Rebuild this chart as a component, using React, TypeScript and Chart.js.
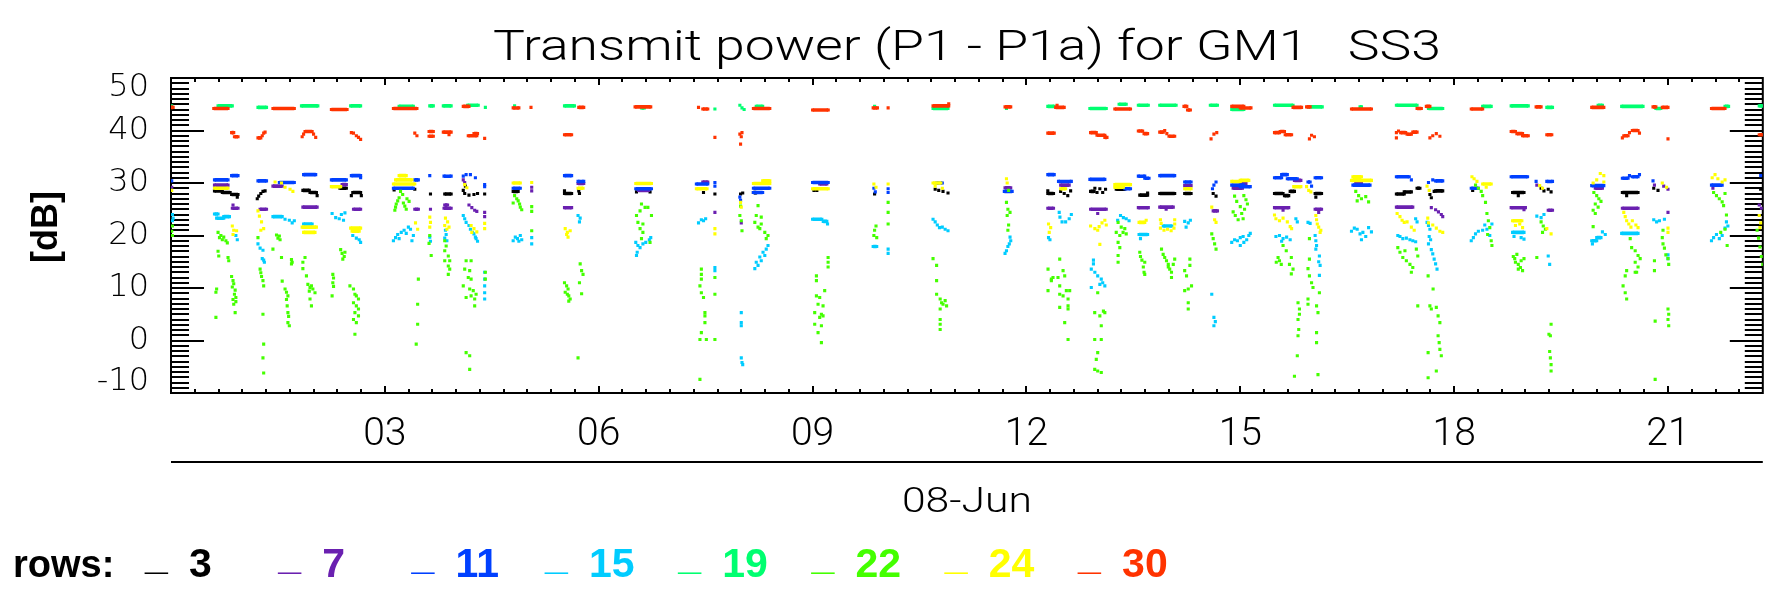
import React, { useEffect, useRef } from 'react';
import { Chart, registerables } from 'chart.js';

Chart.register(...registerables);

// ---------- text ----------
const TITLE = 'Transmit power (P1 - P1a) for GM1   SS3';
const Y_TITLE = '[dB]';
const X_TITLE = '08-Jun';
const LEGEND_LABEL = 'rows:';

// ---------- axes ----------
const X_MIN = 0;
const X_MAX = 22.33;
const Y_MIN = -10;
const Y_MAX = 50;
const xTickValues = [3, 6, 9, 12, 15, 18, 21];
const xTickLabels = ['03', '06', '09', '12', '15', '18', '21'];
const yTickValues = [-10, 0, 10, 20, 30, 40, 50];

// ---------- series ----------
const rowLabels = ['3', '7', '11', '15', '19', '22', '24', '30'];
const rowColors = ['#000000', '#6a20b0', '#0040ff', '#00ccff', '#00ff70', '#44ff00', '#ffff00', '#ff3300'];

// dashes: [hourStart, hourEnd, dB]; dots: [hour, dB]
const dash3 = [[0.61,0.72,28.5],[0.72,0.83,28.2],[0.85,0.94,27.8],[1.85,1.94,28.6],[1.95,2.04,28.2],[2.37,2.46,29.0],[2.55,2.66,28.2],[3.84,3.93,27.9],[4.80,4.87,28.4],[5.52,5.62,28.0],[8.17,8.21,28.2],[12.30,12.38,28.0],[12.90,12.95,28.4],[13.26,13.38,28.8],[13.59,13.70,27.7],[13.87,14.08,28.0],[14.22,14.31,28.0],[15.48,15.60,28.0],[15.62,15.68,27.6],[15.70,15.76,28.4],[16.05,16.14,28.0],[17.19,17.30,27.9],[17.30,17.40,28.3],[17.48,17.52,29.0],[17.74,17.84,28.5],[18.82,18.98,28.2],[20.36,20.58,28.2]];
const dot3 = [[0.93,27.3],[1.21,27.0],[1.23,27.5],[1.26,28.0],[1.29,28.4],[1.32,28.5],[2.05,27.6],[2.53,27.6],[2.67,27.6],[3.13,28.7],[3.42,28.8],[3.64,27.9],[4.13,29.4],[4.10,28.6],[4.12,28.0],[4.18,27.7],[4.25,27.8],[4.30,28.0],[4.40,27.9],[5.52,28.5],[5.72,28.5],[5.73,28.0],[6.53,28.3],[6.72,28.3],[7.47,28.2],[7.63,27.9],[7.99,27.9],[8.02,28.1],[8.20,28.1],[9.02,28.6],[9.06,28.6],[9.87,27.9],[10.72,28.8],[10.77,28.6],[10.83,28.4],[10.90,28.1],[12.30,28.5],[12.48,28.4],[12.53,28.0],[12.58,27.6],[12.62,28.5],[12.96,29.0],[12.99,28.2],[13.03,28.9],[13.07,28.2],[13.11,28.8],[13.70,28.1],[14.62,28.0],[14.66,27.5],[16.06,27.3],[17.66,27.8],[17.72,28.4],[17.68,27.2],[18.26,28.6],[18.90,27.6],[19.22,29.0],[19.26,28.5],[19.32,28.8],[19.36,28.3],[20.42,27.6],[20.80,29.0],[20.86,28.6],[22.30,28.8]];

const dash7 = [[0.61,0.80,29.6],[0.86,0.94,25.2],[1.25,1.34,25.0],[1.43,1.56,29.4],[1.85,2.05,25.4],[2.40,2.46,29.7],[2.56,2.66,25.0],[3.42,3.47,25.0],[3.83,3.93,25.2],[3.84,3.88,25.8],[5.71,5.79,29.9],[5.52,5.62,25.3],[6.56,6.70,28.6],[7.46,7.53,30.2],[9.10,9.20,29.8],[11.70,11.78,29.1],[12.48,12.60,29.6],[12.30,12.38,25.2],[12.90,13.12,25.0],[13.57,13.71,25.3],[13.87,14.06,25.4],[14.22,14.31,29.5],[14.62,14.68,24.7],[14.90,15.03,29.0],[15.00,15.08,29.9],[15.76,15.85,30.5],[15.48,15.68,25.3],[16.05,16.14,25.0],[16.62,16.70,29.9],[17.19,17.42,25.4],[18.80,19.00,25.3],[19.32,19.38,24.8],[19.98,20.08,29.0],[20.36,20.58,25.2]];
const dot7 = [[0.01,29.2],[0.87,25.8],[3.64,25.0],[4.10,30.6],[4.12,30.1],[4.18,25.8],[4.22,25.3],[4.26,24.8],[4.29,24.6],[4.40,24.4],[4.40,23.6],[5.06,29.2],[5.06,28.5],[7.63,24.4],[8.00,22.4],[13.00,24.2],[13.96,25.0],[15.60,24.8],[16.10,24.4],[17.68,25.3],[17.74,24.9],[17.78,24.5],[17.82,24.0],[17.84,23.6],[18.98,24.9],[19.16,29.6],[20.81,29.6],[20.94,29.4],[21.00,28.8],[21.00,24.4],[21.63,29.0],[22.28,25.8],[22.31,25.2]];

const dash11 = [[0.61,0.80,30.6],[0.85,0.94,31.4],[1.22,1.34,30.4],[1.52,1.73,30.1],[1.86,2.03,31.6],[2.25,2.46,30.6],[2.53,2.66,31.4],[3.12,3.40,29.0],[3.42,3.47,30.6],[3.83,3.93,31.3],[4.80,4.90,29.0],[5.52,5.62,31.4],[5.71,5.79,30.3],[6.52,6.74,28.9],[7.37,7.53,29.8],[8.17,8.40,29.0],[8.17,8.30,28.2],[9.00,9.22,30.1],[10.74,10.82,30.0],[11.69,11.80,28.4],[12.30,12.39,31.6],[12.45,12.63,30.3],[12.89,13.10,30.7],[13.38,13.46,28.9],[13.57,13.66,31.3],[13.66,13.72,30.9],[13.87,14.08,31.4],[14.22,14.31,30.2],[14.88,15.05,29.6],[15.00,15.14,29.3],[15.48,15.58,31.0],[15.58,15.66,31.6],[15.66,15.80,30.8],[16.05,16.14,31.0],[15.95,15.98,30.2],[16.58,16.82,29.6],[17.19,17.37,31.2],[17.74,17.84,30.4],[18.24,18.34,29.0],[18.80,19.03,31.2],[19.30,19.38,30.3],[19.93,20.10,29.5],[20.36,20.44,30.9],[20.50,20.58,31.2],[21.61,21.76,29.6]];
const dot11 = [[0.01,30.4],[2.66,31.0],[3.63,31.4],[4.10,31.3],[4.14,31.6],[4.20,31.6],[4.27,31.0],[4.40,29.7],[4.40,29.3],[7.63,30.1],[7.63,29.4],[7.98,27.3],[7.99,26.7],[9.86,29.0],[9.88,28.3],[10.06,28.9],[10.06,28.2],[14.66,30.2],[14.63,29.6],[14.61,28.9],[16.00,29.4],[17.40,30.6],[17.64,30.1],[17.70,30.6],[19.15,30.3],[20.46,31.4],[20.60,31.6],[20.79,30.4],[22.30,31.4]];

const dash15 = [[0.61,0.66,24.1],[0.64,0.74,23.3],[0.74,0.82,23.6],[1.43,1.56,23.6],[1.86,1.98,22.2],[9.00,9.13,23.1],[9.15,9.20,22.7],[9.85,9.90,17.9],[13.58,13.70,20.2],[13.92,14.04,21.8],[18.82,18.98,20.6],[19.93,20.00,19.0],[20.00,20.06,19.6],[20.35,20.58,20.4]];
const dot15 = [[0.02,24.0],[0.03,23.3],[0.02,22.8],[0.91,20.0],[0.93,19.2],[1.22,18.4],[1.25,17.6],[1.29,17.2],[1.28,15.6],[1.31,14.9],[1.30,15.3],[1.60,23.1],[1.66,22.9],[1.70,22.4],[1.73,22.8],[2.26,24.2],[2.31,23.4],[2.36,23.2],[2.39,24.0],[2.44,24.3],[2.42,22.9],[2.55,20.0],[2.60,19.5],[2.64,19.2],[2.66,18.7],[3.12,19.0],[3.15,19.6],[3.18,20.2],[3.20,19.4],[3.23,20.6],[3.27,21.0],[3.30,20.4],[3.33,21.6],[3.36,21.2],[3.40,20.0],[3.38,19.0],[3.63,19.7],[3.64,18.9],[3.85,21.0],[3.86,20.2],[3.84,19.5],[3.87,19.0],[4.10,23.8],[4.12,23.2],[4.14,22.5],[4.18,21.9],[4.20,21.2],[4.23,20.6],[4.27,19.7],[4.25,20.3],[4.30,18.9],[4.28,19.4],[4.40,13.0],[4.40,11.7],[4.40,10.4],[4.40,9.1],[4.40,7.9],[4.80,19.0],[4.83,19.7],[4.86,19.4],[4.88,18.9],[4.90,20.0],[4.92,19.2],[5.06,19.6],[5.06,18.4],[5.71,23.8],[5.74,23.3],[5.73,22.6],[6.52,18.7],[6.55,18.1],[6.58,17.7],[6.62,18.4],[6.66,18.7],[6.71,19.2],[6.73,19.6],[6.53,16.2],[6.54,16.8],[7.40,22.4],[7.44,23.0],[7.50,23.2],[7.47,22.8],[7.63,13.9],[7.63,13.3],[8.375,18.1],[8.35,17.4],[8.305,16.8],[8.33,16.2],[8.26,15.9],[8.28,15.2],[8.21,14.9],[8.235,14.3],[8.19,13.7],[8.00,5.3],[8.00,3.4],[8.00,2.8],[8.00,-3.3],[8.01,-4.2],[8.02,-4.6],[9.21,22.2],[10.06,17.4],[10.06,16.6],[10.69,23.1],[10.72,22.6],[10.75,22.0],[10.78,21.5],[10.82,21.6],[10.86,21.2],[10.90,20.9],[11.77,19.7],[11.78,19.0],[11.76,18.4],[11.74,17.9],[11.72,17.1],[11.70,16.6],[12.46,24.4],[12.47,23.5],[12.50,22.6],[12.55,22.6],[12.60,23.2],[12.63,24.0],[12.31,19.6],[12.33,19.2],[12.94,14.6],[12.91,13.6],[12.96,13.0],[13.00,12.3],[13.05,11.7],[13.07,11.0],[13.10,10.4],[13.03,10.7],[12.91,10.1],[12.94,15.3],[13.32,23.8],[13.36,23.4],[13.40,23.2],[13.44,22.8],[13.28,22.9],[13.60,19.4],[14.22,22.7],[14.27,22.4],[14.30,22.9],[14.24,21.6],[14.60,8.8],[14.63,4.4],[14.65,3.6],[14.63,2.8],[14.88,18.7],[14.92,19.2],[14.96,19.0],[15.00,19.6],[15.04,19.8],[15.00,18.1],[15.05,18.7],[15.09,19.2],[15.12,20.0],[15.14,20.4],[15.78,23.2],[15.80,22.6],[15.50,19.8],[15.55,20.0],[15.60,19.4],[15.65,19.7],[15.70,19.2],[15.58,18.9],[15.95,22.5],[15.98,22.3],[16.05,20.0],[16.06,19.0],[16.07,18.1],[16.06,17.4],[16.11,16.1],[16.10,15.0],[16.12,14.3],[16.11,12.4],[16.56,20.8],[16.60,21.4],[16.64,21.2],[16.68,20.3],[16.72,20.6],[16.76,19.8],[16.80,21.5],[16.84,20.7],[16.70,19.2],[17.46,23.2],[17.48,22.6],[17.21,20.0],[17.24,19.8],[17.28,19.4],[17.33,19.5],[17.38,19.2],[17.42,19.0],[17.46,18.8],[17.62,22.5],[17.64,21.9],[17.66,21.2],[17.65,19.8],[17.67,19.2],[17.64,18.4],[17.68,17.3],[17.70,16.5],[17.72,15.5],[17.74,14.6],[17.76,13.6],[18.24,19.0],[18.27,19.6],[18.30,20.3],[18.34,20.8],[18.40,21.0],[18.43,22.0],[18.46,21.2],[18.50,20.0],[18.53,22.2],[18.84,19.8],[18.94,19.6],[18.98,19.3],[19.16,23.7],[19.22,23.4],[19.26,24.0],[19.32,16.1],[19.34,14.5],[20.08,20.7],[20.12,20.2],[19.94,18.4],[20.80,23.0],[20.84,22.6],[20.88,22.8],[20.95,23.1],[21.00,16.3],[21.00,15.6],[21.61,19.0],[21.64,19.6],[21.68,20.2],[21.72,19.4],[21.76,20.0],[21.80,21.4],[21.82,22.6],[21.84,21.8]];

const dash19 = [[0.66,0.86,44.7],[1.22,1.34,44.4],[1.83,2.06,44.7],[2.52,2.66,44.7],[3.20,3.40,44.6],[3.63,3.68,44.7],[3.82,3.93,44.7],[4.16,4.31,44.8],[5.52,5.66,44.7],[6.60,6.64,44.3],[8.21,8.30,44.6],[10.69,10.90,44.2],[12.30,12.39,44.6],[12.89,13.12,44.2],[13.30,13.40,45.0],[13.57,13.71,44.8],[13.87,14.10,44.8],[14.58,14.68,44.8],[14.88,15.05,44.0],[15.48,15.74,44.8],[15.96,16.15,44.5],[16.68,16.70,44.5],[17.19,17.48,44.8],[17.64,17.84,44.2],[18.40,18.52,44.6],[18.80,19.04,44.7],[19.30,19.38,44.4],[20.02,20.08,44.8],[20.35,20.65,44.6],[20.83,20.90,44.2],[21.80,21.85,44.6],[22.28,22.33,44.7]];
const dot19 = [[0.01,44.7],[4.41,44.4],[4.82,44.7],[7.63,44.1],[7.98,44.8],[8.01,44.3],[8.04,44.0],[9.87,44.6],[11.72,44.2]];

const dash22 = [];
const dot22 = [[0.02,21.8],[0.01,20.8],[0.02,20.0],[0.66,20.6],[0.70,20.0],[0.74,19.7],[0.77,19.0],[0.72,19.2],[0.79,18.6],[0.68,19.6],[0.66,17.0],[0.67,16.1],[0.80,15.8],[0.81,15.2],[0.64,9.8],[0.63,9.2],[0.63,4.4],[0.85,12.2],[0.87,11.4],[0.88,10.8],[0.86,10.2],[0.90,9.6],[0.89,8.8],[0.91,8.2],[0.87,7.8],[0.91,7.4],[0.88,6.9],[0.90,5.3],[1.22,19.6],[1.25,13.6],[1.26,12.9],[1.27,12.2],[1.29,11.4],[1.30,10.4],[1.29,5.0],[1.30,-0.7],[1.29,-3.3],[1.30,-6.2],[1.48,20.1],[1.50,19.5],[1.53,19.2],[1.52,19.9],[1.55,15.8],[1.69,15.4],[1.69,14.6],[1.70,14.9],[1.56,11.3],[1.60,9.8],[1.62,9.2],[1.64,8.5],[1.62,7.8],[1.63,6.6],[1.64,5.3],[1.65,4.6],[1.64,3.4],[1.66,2.8],[1.43,17.4],[1.88,15.8],[1.85,14.9],[1.85,13.7],[1.90,12.3],[1.92,10.7],[1.95,10.1],[1.99,9.8],[2.02,9.1],[1.97,10.4],[1.94,9.4],[1.95,7.9],[1.97,6.6],[2.38,17.3],[2.40,16.6],[2.43,16.0],[2.41,15.5],[2.44,16.8],[2.27,12.6],[2.28,11.9],[2.27,11.0],[2.28,10.3],[2.26,8.5],[2.51,10.4],[2.56,9.8],[2.58,8.8],[2.60,8.5],[2.63,7.9],[2.56,7.2],[2.60,6.6],[2.63,6.0],[2.58,5.3],[2.63,4.7],[2.56,4.0],[2.60,3.4],[2.58,1.2],[3.22,28.4],[3.25,27.8],[3.20,27.2],[3.18,26.6],[3.16,26.0],[3.15,25.4],[3.14,24.8],[3.26,26.2],[3.28,25.6],[3.30,25.0],[3.31,27.0],[3.34,26.5],[3.47,11.7],[3.46,6.9],[3.46,3.1],[3.44,-0.7],[3.63,20.0],[3.62,18.5],[3.65,16.2],[3.84,19.0],[3.86,18.0],[3.84,17.1],[3.89,16.1],[3.91,15.2],[3.84,15.2],[3.89,14.2],[3.91,13.6],[3.89,12.6],[4.14,15.2],[4.21,15.2],[4.12,13.6],[4.19,13.3],[4.17,12.0],[4.21,11.7],[4.10,10.4],[4.19,9.8],[4.24,9.5],[4.14,8.2],[4.21,8.5],[4.28,8.8],[4.26,7.9],[4.26,6.6],[4.14,-2.3],[4.19,-2.9],[4.19,-5.5],[4.41,13.0],[4.41,11.7],[4.82,27.6],[4.85,27.0],[4.87,26.6],[4.89,26.0],[4.90,25.4],[4.92,24.9],[4.80,26.2],[5.06,25.5],[5.06,24.6],[5.06,20.9],[5.52,11.0],[5.55,10.4],[5.57,9.8],[5.53,9.2],[5.56,8.8],[5.58,8.5],[5.60,7.9],[5.58,7.5],[5.74,14.6],[5.76,13.3],[5.78,12.6],[5.73,11.0],[5.76,8.9],[5.71,-3.3],[6.60,26.0],[6.65,25.35],[6.58,24.7],[6.69,25.35],[6.74,23.8],[6.53,23.8],[6.55,22.5],[6.62,22.2],[6.58,21.3],[6.62,20.6],[6.60,19.4],[6.72,18.7],[7.44,13.6],[7.44,12.6],[7.44,11.7],[7.42,10.4],[7.44,9.1],[7.47,8.2],[7.49,5.3],[7.49,4.7],[7.49,3.4],[7.44,1.5],[7.42,0.2],[7.51,0.2],[7.42,-7.4],[7.63,12.0],[7.63,8.8],[7.63,0.2],[7.99,25.6],[7.98,23.8],[8.00,22.8],[8.01,20.9],[8.235,25.7],[8.21,23.8],[8.28,23.5],[8.19,22.5],[8.235,21.6],[8.28,22.2],[8.33,20.6],[8.375,20.0],[8.35,19.4],[8.26,21.3],[9.218,15.8],[9.218,14.9],[9.218,14.0],[9.054,12.3],[9.054,11.4],[9.17,9.5],[9.054,8.5],[9.10,8.2],[9.077,6.9],[9.147,6.6],[9.03,5.3],[9.124,5.0],[9.10,4.4],[9.147,4.7],[9.03,3.1],[9.124,2.8],[9.077,1.5],[9.124,-0.4],[10.06,26.3],[10.06,24.4],[10.06,22.2],[9.89,21.8],[9.87,21.0],[9.86,20.0],[9.90,19.6],[10.69,15.6],[10.74,14.3],[10.74,11.4],[10.74,8.8],[10.79,7.9],[10.81,7.2],[10.83,6.9],[10.88,6.6],[10.86,7.6],[10.79,6.0],[10.79,4.0],[10.79,3.1],[10.79,2.1],[11.75,28.6],[11.72,26.3],[11.74,25.0],[11.77,24.4],[11.73,23.8],[11.75,22.0],[11.74,21.0],[12.467,15.5],[12.303,13.6],[12.373,12.0],[12.443,12.0],[12.514,13.3],[12.537,12.3],[12.35,11.4],[12.467,10.4],[12.56,9.5],[12.607,9.5],[12.467,8.8],[12.514,8.5],[12.584,7.9],[12.584,6.6],[12.467,6.3],[12.584,6.0],[12.537,3.4],[12.584,0.2],[12.303,9.5],[12.35,11.7],[13.00,9.1],[12.958,5.3],[13.08,5.6],[13.10,5.3],[13.03,4.7],[13.05,2.8],[12.958,0.2],[13.05,0.2],[13.00,-2.3],[12.98,-3.6],[12.958,-5.5],[13.05,-6.1],[13.00,-5.8],[13.286,22.5],[13.33,21.6],[13.356,20.6],[13.38,21.3],[13.40,20.3],[13.31,20.0],[13.286,18.7],[13.31,17.7],[13.286,16.2],[13.286,14.9],[13.26,20.6],[13.59,16.8],[13.60,16.0],[13.62,15.3],[13.66,14.9],[13.64,14.0],[13.65,13.0],[13.66,12.6],[13.895,17.4],[13.918,16.4],[13.94,15.8],[13.965,15.2],[13.99,14.5],[14.01,13.6],[14.035,13.0],[14.035,12.0],[13.99,14.0],[14.06,14.5],[14.08,15.5],[14.293,15.5],[14.293,14.3],[14.22,13.3],[14.246,12.3],[14.316,10.4],[14.27,9.8],[14.22,9.5],[14.27,7.2],[14.27,6.0],[14.60,20.3],[14.62,19.4],[14.64,18.4],[14.66,17.4],[14.92,27.5],[14.95,26.5],[15.00,25.5],[14.90,24.5],[14.93,23.8],[14.97,23.0],[15.05,27.6],[15.08,26.8],[15.10,26.0],[15.06,25.0],[15.02,24.2],[15.04,23.2],[15.60,18.1],[15.645,17.1],[15.53,15.8],[15.505,14.9],[15.575,14.5],[15.716,15.8],[15.69,14.5],[15.74,13.6],[15.716,12.7],[15.55,15.2],[15.81,7.2],[15.83,6.0],[15.81,4.0],[15.82,2.1],[15.81,0.9],[15.80,-2.9],[15.76,-6.8],[15.83,5.0],[15.97,19.4],[15.97,15.5],[15.95,13.7],[15.97,12.3],[16.00,11.0],[16.02,10.1],[16.07,6.6],[16.09,5.3],[16.11,9.1],[16.07,1.5],[16.07,-0.4],[15.95,7.9],[15.95,6.9],[16.09,-6.5],[16.62,28.4],[16.66,27.6],[16.70,27.0],[16.76,27.4],[16.80,26.4],[16.64,26.6],[17.21,17.7],[17.24,16.8],[17.28,15.8],[17.33,15.2],[17.38,14.5],[17.42,13.9],[17.47,17.4],[17.49,16.1],[17.40,13.0],[17.31,17.1],[17.49,6.6],[17.635,12.3],[17.705,9.8],[17.66,6.6],[17.68,6.0],[17.75,6.3],[17.775,4.7],[17.80,3.4],[17.775,0.9],[17.79,-0.4],[17.80,-1.7],[17.82,-2.9],[17.635,-2.3],[17.75,-5.8],[17.635,-7.1],[18.30,29.6],[18.34,29.0],[18.38,28.4],[18.40,27.6],[18.44,26.3],[18.46,24.2],[18.48,22.8],[18.50,21.5],[18.47,20.2],[18.52,19.0],[18.53,18.1],[18.83,16.0],[18.85,15.6],[18.88,16.4],[18.86,14.9],[18.90,14.5],[18.94,15.2],[18.93,13.9],[18.96,13.3],[18.90,13.6],[18.98,15.6],[19.22,22.6],[19.25,21.8],[19.28,21.2],[19.24,20.6],[19.16,15.8],[19.36,3.1],[19.33,1.2],[19.35,0.9],[19.34,-2.1],[19.35,-3.3],[19.36,-4.6],[19.36,-5.8],[19.96,28.2],[20.00,27.6],[20.03,27.0],[20.06,26.5],[19.98,26.0],[20.02,25.4],[19.95,24.8],[19.98,24.2],[19.95,21.7],[20.47,19.4],[20.49,17.7],[20.54,17.1],[20.58,16.2],[20.61,15.6],[20.54,14.9],[20.58,14.0],[20.56,13.0],[20.54,13.0],[20.42,13.3],[20.40,12.3],[20.37,10.4],[20.40,9.1],[20.42,7.9],[20.93,21.0],[20.92,19.6],[20.93,18.4],[20.95,17.6],[20.97,16.3],[21.00,15.6],[21.01,14.5],[20.81,15.2],[20.81,13.3],[20.82,3.7],[21.00,6.0],[21.01,5.0],[21.00,4.0],[21.01,2.8],[20.82,-7.4],[21.64,28.2],[21.68,27.6],[21.72,27.0],[21.76,26.4],[21.80,28.0],[21.78,25.7],[21.82,23.9],[21.74,20.6],[21.80,21.2],[21.83,18.1],[22.25,21.0],[22.27,19.5],[22.29,17.8],[22.31,16.0],[22.33,14.5]];

const dash24 = [[0.61,0.80,29.0],[1.84,2.04,21.6],[1.86,2.02,20.6],[2.25,2.38,29.3],[2.52,2.66,21.4],[2.54,2.64,20.8],[3.20,3.30,31.4],[3.15,3.38,30.6],[3.12,3.42,29.8],[4.80,4.90,30.0],[5.71,5.78,29.0],[6.52,6.74,29.9],[7.37,7.52,28.9],[8.17,8.40,29.9],[8.30,8.40,30.4],[9.00,9.22,28.9],[10.69,10.80,30.0],[12.48,12.55,28.9],[13.24,13.46,29.7],[13.24,13.36,29.2],[13.58,13.66,22.5],[14.22,14.31,28.9],[14.88,15.00,30.3],[15.00,15.12,30.5],[15.75,15.85,29.3],[16.58,16.70,31.2],[16.56,16.84,30.5],[18.40,18.52,29.8],[18.82,18.95,22.8]];
const dot24 = [[0.01,28.6],[0.86,21.8],[0.88,21.0],[0.92,20.9],[0.87,20.2],[1.22,24.7],[1.24,23.7],[1.27,22.6],[1.30,21.3],[1.26,21.0],[1.46,30.2],[1.55,30.0],[1.60,29.2],[1.67,28.8],[1.71,28.4],[3.43,22.4],[3.46,21.2],[3.63,23.5],[3.64,22.5],[3.63,21.6],[3.85,23.3],[3.88,22.6],[3.84,21.9],[3.90,21.6],[3.87,21.2],[4.12,29.7],[4.15,29.1],[4.21,21.9],[4.25,21.3],[4.29,20.7],[4.22,20.6],[4.40,22.3],[4.40,21.3],[5.06,30.1],[5.53,21.3],[5.56,20.6],[5.60,20.9],[5.57,19.7],[5.55,20.2],[7.63,21.3],[7.63,20.3],[7.99,26.3],[8.00,25.4],[9.86,29.8],[9.89,29.2],[10.06,29.8],[10.72,29.4],[10.82,29.0],[11.72,30.8],[11.73,30.0],[12.31,22.2],[12.34,21.5],[12.32,20.6],[12.90,21.8],[12.96,21.3],[13.02,21.7],[13.06,22.4],[13.10,22.9],[13.12,22.0],[13.00,21.0],[13.03,18.3],[13.68,22.9],[13.88,23.0],[13.89,22.3],[13.88,21.4],[13.93,21.0],[13.98,21.2],[14.03,20.9],[14.07,21.4],[14.08,22.2],[14.08,23.0],[14.60,25.4],[14.64,23.0],[14.66,22.5],[15.48,23.9],[15.50,23.2],[15.55,22.8],[15.60,23.3],[15.66,22.6],[15.70,21.7],[15.72,21.3],[15.93,29.3],[15.96,28.6],[15.99,28.3],[16.06,23.8],[16.07,23.0],[16.08,22.2],[16.10,21.6],[16.13,21.0],[16.12,20.6],[17.20,24.2],[17.24,23.6],[17.27,22.9],[17.30,22.5],[17.34,22.6],[17.40,21.6],[17.44,21.0],[17.62,29.4],[17.65,28.6],[17.63,23.3],[17.64,22.4],[17.70,22.0],[17.75,21.4],[17.80,20.8],[17.84,20.6],[18.25,31.2],[18.28,30.8],[18.32,30.3],[18.45,29.2],[18.86,21.9],[18.92,22.2],[18.96,21.5],[19.20,29.5],[19.24,29.0],[19.30,21.3],[19.36,20.3],[20.05,31.8],[20.10,31.4],[20.00,30.6],[19.95,30.0],[20.10,30.2],[20.38,24.4],[20.40,23.6],[20.42,22.8],[20.45,22.2],[20.50,22.8],[20.55,22.0],[20.58,21.5],[20.48,21.6],[20.92,30.0],[20.98,29.2],[21.00,21.4],[21.00,20.6],[21.62,31.0],[21.66,31.6],[21.70,30.8],[21.76,30.2],[21.80,30.6],[22.28,23.8],[22.30,22.4],[22.29,21.5]];

const dash30 = [[0.00,0.03,44.4],[0.60,0.80,44.2],[0.85,0.88,39.6],[0.89,0.94,38.8],[1.22,1.26,38.6],[1.43,1.73,44.2],[1.88,1.98,39.8],[2.25,2.47,44.0],[3.12,3.45,44.2],[3.62,3.68,39.8],[3.62,3.68,38.9],[3.82,3.93,39.7],[4.10,4.18,44.6],[4.17,4.29,39.0],[4.25,4.30,39.4],[4.80,4.88,44.3],[5.72,5.79,44.4],[5.52,5.62,39.2],[6.51,6.73,44.5],[7.46,7.53,44.1],[8.17,8.40,44.2],[9.00,9.22,43.9],[9.85,9.91,44.3],[10.69,10.91,44.7],[11.70,11.78,44.5],[12.41,12.53,44.4],[12.30,12.39,39.5],[12.90,12.98,39.6],[12.99,13.10,39.1],[13.10,13.13,38.7],[13.24,13.46,44.1],[13.57,13.63,39.9],[13.65,13.70,39.4],[13.87,13.92,39.7],[14.00,14.08,38.9],[14.21,14.25,44.6],[14.26,14.30,43.9],[14.88,15.05,44.6],[15.00,15.15,44.3],[15.74,15.86,44.4],[15.48,15.55,39.6],[15.56,15.62,39.8],[15.63,15.72,39.2],[15.93,15.98,44.5],[16.56,16.84,44.1],[17.48,17.54,44.2],[17.25,17.32,39.6],[17.34,17.40,39.3],[17.42,17.48,39.7],[17.61,17.66,44.6],[18.24,18.40,44.1],[18.80,18.86,39.8],[18.88,18.96,39.4],[18.96,19.04,39.0],[19.15,19.22,44.5],[19.30,19.37,39.2],[19.93,20.10,44.4],[20.38,20.44,39.0],[20.50,20.58,40.0],[20.79,20.83,44.5],[20.92,21.00,44.4],[21.61,21.80,44.2],[22.28,22.33,39.2]];
const dot30 = [[1.28,39.0],[1.30,39.5],[1.32,39.7],[1.84,38.8],[1.86,39.3],[2.00,39.3],[2.03,38.7],[2.53,39.6],[2.56,39.5],[2.60,39.0],[2.63,38.7],[2.66,38.3],[3.42,39.5],[3.45,39.0],[3.90,39.2],[4.40,38.5],[5.05,44.4],[7.40,44.4],[7.63,38.7],[7.98,39.3],[8.01,39.6],[8.00,38.8],[7.99,37.4],[10.06,44.3],[10.91,45.1],[12.43,44.8],[13.94,40.0],[13.97,39.4],[14.59,38.4],[14.63,39.3],[14.67,39.6],[15.97,38.4],[16.00,39.1],[16.04,38.8],[17.19,39.6],[17.19,38.6],[17.22,39.9],[17.66,38.6],[17.70,39.0],[17.75,39.4],[17.80,38.9],[20.36,38.6],[20.46,39.6],[20.60,39.5],[21.00,38.4]];

const seriesDashes = [dash3, dash7, dash11, dash15, dash19, dash22, dash24, dash30];
const seriesDots = [dot3, dot7, dot11, dot15, dot19, dot22, dot24, dot30];

// ---------- styling ----------
const FONT = 'Liberation Sans, Arial, sans-serif';
const THIN = 'Roboto, "Liberation Sans", sans-serif';
const WIDE = '"DejaVu Sans", "Liberation Sans", sans-serif';
const W = 1765;
const H = 597;

function buildData(dashes: number[][], dots: number[][]) {
  const out: { x: number; y: number | null }[] = [];
  for (const [a, b, v] of dashes) {
    out.push({ x: a, y: v }, { x: b, y: v }, { x: b, y: null });
  }
  for (const [h, v] of dots) {
    out.push({ x: h, y: v }, { x: h, y: null });
  }
  return out;
}

function fitText(ctx: CanvasRenderingContext2D, text: string, cx: number, baseline: number, width: number, font: string, color: string) {
  ctx.save();
  ctx.font = font;
  ctx.fillStyle = color;
  ctx.textAlign = 'center';
  ctx.textBaseline = 'alphabetic';
  const w = ctx.measureText(text).width;
  ctx.translate(cx, baseline);
  ctx.scale(width / w, 1);
  ctx.fillText(text, 0, 0);
  ctx.restore();
}

const idlFrame = {
  id: 'idlFrame',
  beforeDatasetsDraw(chart: any) {
    const { ctx, chartArea: a, scales } = chart;
    const x = scales.x;
    const y = scales.y;
    ctx.save();
    ctx.strokeStyle = '#000';
    ctx.lineWidth = 2;
    ctx.beginPath();
    for (let v = Y_MIN; v <= Y_MAX; v += 1) {
      const py = Math.round(y.getPixelForValue(v));
      const len = v % 10 === 0 ? 33 : 18;
      ctx.moveTo(a.left, py);
      ctx.lineTo(a.left + len, py);
      ctx.moveTo(a.right, py);
      ctx.lineTo(a.right - len, py);
    }
    for (let k = 0; k * 20 <= X_MAX * 60; k++) {
      const v = k / 3;
      const px = Math.round(x.getPixelForValue(v));
      const len = k % 9 === 0 ? 7 : 4;
      ctx.moveTo(px, a.bottom);
      ctx.lineTo(px, a.bottom - len);
      ctx.moveTo(px, a.top);
      ctx.lineTo(px, a.top + len);
    }
    ctx.stroke();
    ctx.lineWidth = 2;
    ctx.strokeRect(a.left, a.top, a.right - a.left, a.bottom - a.top);
    ctx.restore();
  },
  afterDraw(chart: any) {
    const { ctx, chartArea: a } = chart;
    ctx.save();
    // title
    fitText(ctx, TITLE, (a.left + a.right) / 2, 60, 948, `300 43px ${THIN}`, '#000');
    // y title
    ctx.save();
    ctx.translate(47, 227);
    ctx.rotate(-Math.PI / 2);
    ctx.font = `700 36px ${FONT}`;
    ctx.fillStyle = '#000';
    ctx.textAlign = 'center';
    ctx.textBaseline = 'middle';
    ctx.fillText(Y_TITLE, 0, 0);
    ctx.restore();
    // separator
    ctx.strokeStyle = '#000';
    ctx.lineWidth = 2;
    ctx.beginPath();
    ctx.moveTo(a.left, 462);
    ctx.lineTo(a.right, 462);
    ctx.stroke();
    // date label
    fitText(ctx, X_TITLE, (a.left + a.right) / 2, 512, 130, `300 35px ${THIN}`, '#000');
    // legend
    ctx.textAlign = 'left';
    ctx.textBaseline = 'alphabetic';
    ctx.font = `700 38px ${FONT}`;
    ctx.fillStyle = '#000';
    ctx.fillText(LEGEND_LABEL, 13, 577);
    rowLabels.forEach((lab, i) => {
      const ux = 145 + i * 133.3;
      ctx.fillStyle = rowColors[i];
      ctx.font = `700 41px ${FONT}`;
      ctx.fillText('_', ux, 569);
      ctx.fillText(lab, ux + 44, 577);
    });
    ctx.restore();
  },
};

export default function App() {
  const ref = useRef<HTMLCanvasElement | null>(null);
  useEffect(() => {
    document.body.style.margin = '0';
    const canvas = ref.current;
    if (!canvas) return;
    const datasets = rowLabels.map((lab, i) => ({
      label: 'rows ' + lab,
      data: buildData(seriesDashes[i], seriesDots[i]),
      borderColor: rowColors[i],
      backgroundColor: rowColors[i],
      pointBackgroundColor: rowColors[i],
      pointBorderWidth: 0,
      pointRadius: 2.2,
      pointHoverRadius: 2.2,
      pointStyle: 'rect' as const,
      borderWidth: 3.6,
      showLine: true,
      spanGaps: false,
      tension: 0,
      order: rowLabels.length - 1 - i,
    }));
    const chart = new Chart(canvas, {
      type: 'line',
      data: { datasets },
      options: {
        animation: false,
        responsive: false,
        devicePixelRatio: 1,
        events: [],
        layout: { padding: { top: 78, right: 2, left: 0, bottom: 0 } },
        plugins: { legend: { display: false }, tooltip: { enabled: false }, title: { display: false } },
        scales: {
          x: {
            type: 'linear',
            min: X_MIN,
            max: X_MAX,
            grid: { display: false },
            border: { display: false },
            afterBuildTicks: (axis: any) => {
              axis.ticks = xTickValues.map((value) => ({ value }));
            },
            afterFit: (axis: any) => {
              axis.height = H - 393;
            },
            ticks: {
              autoSkip: false,
              maxRotation: 0,
              minRotation: 0,
              padding: 11,
              color: '#000',
              font: { family: THIN, size: 39, weight: '300' },
              callback: (v: any) => {
                const idx = xTickValues.indexOf(Number(v));
                return idx >= 0 ? xTickLabels[idx] : '';
              },
            },
          },
          y: {
            type: 'linear',
            min: Y_MIN,
            max: Y_MAX,
            grid: { display: false },
            border: { display: false },
            afterBuildTicks: (axis: any) => {
              axis.ticks = yTickValues.map((value) => ({ value }));
            },
            afterFit: (axis: any) => {
              axis.width = 171;
            },
            ticks: {
              padding: 14,
              color: '#000',
              // the end labels sit inside the frame: an empty first/last line nudges them inward
              font: (c: any) => {
                const v = c.tick ? c.tick.value : 0;
                const lh = v === Y_MAX ? '19px' : v === Y_MIN ? '22px' : 1.2;
                return { family: WIDE, size: 32, weight: '200', lineHeight: lh };
              },
              callback: (v: any) => {
                const s = String(v);
                if (Number(v) === Y_MAX) return ['', s];
                if (Number(v) === Y_MIN) return [s, ''];
                return s;
              },
            },
          },
        },
      },
      plugins: [idlFrame],
    });
    return () => chart.destroy();
  }, []);
  return (
    <div style={{ width: W, height: H, background: '#fff' }}>
      <canvas ref={ref} width={W} height={H} style={{ display: 'block' }} />
    </div>
  );
}
